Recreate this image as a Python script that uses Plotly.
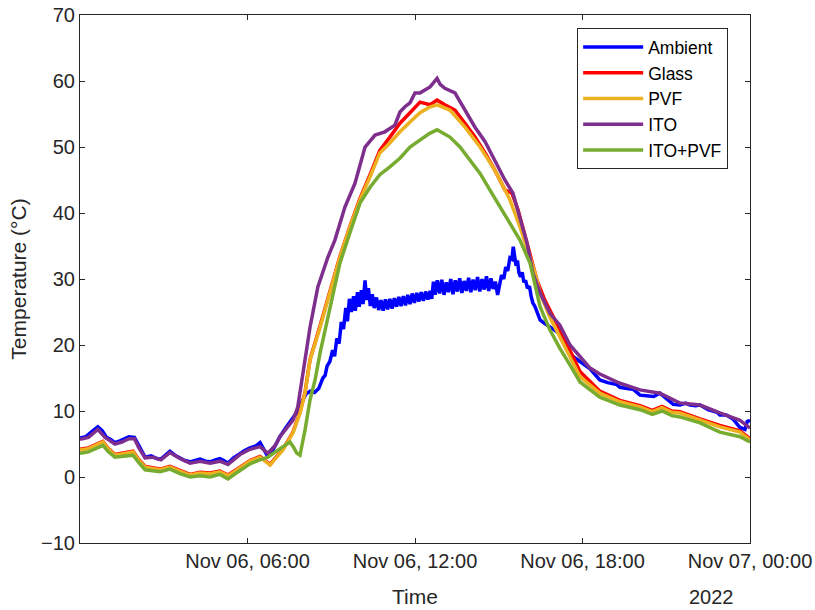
import pandas as pd
import plotly.graph_objects as go

# ---------------- data (hours after 2022-11-06 00:00, temperature in °C) ----------------
ambient_h = [0.0, 0.2, 0.4, 0.64, 0.8, 0.95, 1.1, 1.25, 1.45, 1.6, 1.75, 1.95, 2.1, 2.33, 2.55, 2.75, 2.9,
             3.05, 3.22, 3.4, 3.58, 3.75, 3.94, 4.1, 4.3, 4.5, 4.66, 4.85, 5.01, 5.15, 5.3, 5.5, 5.73, 5.9,
             6.09, 6.3, 6.45, 6.55, 6.7, 6.85, 7.0, 7.16, 7.4, 7.63, 7.8, 7.95, 8.1, 8.25, 8.4, 8.55, 8.7,
             8.78, 8.85, 8.95, 9.05, 9.12, 9.2, 9.28, 9.36, 9.44, 9.52, 9.58, 9.65, 9.72, 9.8, 9.86, 9.94,
             10.0, 10.08, 10.14, 10.21, 10.27, 10.33, 10.4, 10.47, 10.54, 10.62, 10.7, 10.78, 10.86, 10.94,
             11.02, 11.1, 11.18, 11.26, 11.34, 11.42, 11.5, 11.58, 11.66, 11.74, 11.82, 11.9, 11.98, 12.06,
             12.14, 12.22, 12.3, 12.38, 12.46, 12.54, 12.6, 12.66, 12.72, 12.8, 12.88, 12.96, 13.04, 13.12,
             13.2, 13.28, 13.36, 13.44, 13.52, 13.6, 13.68, 13.76, 13.84, 13.92, 14.0, 14.08, 14.16, 14.24,
             14.32, 14.4, 14.48, 14.56, 14.64, 14.72, 14.8, 14.88, 14.96, 15.04, 15.1, 15.18, 15.25, 15.32,
             15.4, 15.47, 15.52, 15.57, 15.62, 15.67, 15.72, 15.78, 15.84, 15.9, 15.96, 16.03, 16.1, 16.16,
             16.22, 16.3, 16.4, 16.48, 16.6, 16.75, 16.9, 17.05, 17.19, 17.3, 17.55, 17.9, 18.27, 18.62,
             18.9, 19.23, 19.34, 19.6, 19.81, 20.06, 20.3, 20.55, 20.77, 21.0, 21.25, 21.49, 21.7, 21.85,
             22.05, 22.21, 22.5, 22.82, 22.92, 23.15, 23.39, 23.64, 23.82, 23.9, 24.0]
ambient_t = [5.9, 6.1, 6.8, 7.6, 7.0, 6.0, 5.7, 5.2, 5.5, 5.8, 6.1, 6.0, 4.8, 3.0, 3.2, 2.8, 2.7,
             3.2, 3.9, 3.3, 2.9, 2.5, 2.3, 2.5, 2.7, 2.4, 2.3, 2.6, 2.8, 2.5, 2.1, 2.9, 3.6, 4.0,
             4.4, 4.7, 5.2, 4.5, 3.3, 3.6, 4.8, 6.1, 7.6, 8.9, 10.0, 11.4, 12.6, 13.0, 12.8, 13.4, 15.0,
             15.4, 16.8, 17.5, 19.2, 18.3, 21.0, 20.2, 23.5, 22.4, 25.6, 23.6, 27.0, 25.0, 27.4, 25.2, 28.0,
             25.8, 28.3, 26.2, 29.8, 26.8, 28.6, 25.9, 27.7, 25.6, 27.2, 25.3, 26.8, 25.2, 26.9,
             25.4, 27.0, 25.5, 27.1, 25.8, 27.3, 25.9, 27.4, 26.0, 27.6, 26.2, 27.8, 26.4, 27.9,
             26.6, 28.0, 26.7, 28.1, 26.9, 28.2, 27.0, 29.6, 27.6, 29.8, 27.8, 29.9, 27.6, 29.5,
             28.0, 30.0, 27.7, 29.8, 28.1, 30.1, 27.9, 29.7, 28.2, 30.2, 28.0, 29.9, 28.3, 30.3,
             28.1, 30.0, 28.4, 30.4, 28.2, 30.1, 28.5, 29.6, 27.6, 29.0, 30.6, 30.0, 31.8, 31.2,
             33.2, 33.0, 34.9, 33.4, 32.0, 32.8, 31.0, 30.3, 31.0, 29.5, 29.8, 28.6, 28.9, 27.4,
             26.4, 25.8, 24.6, 23.8, 23.4, 23.0, 22.6, 22.1, 21.6, 20.8, 18.6, 17.6, 16.4, 14.7,
             14.3, 14.0, 13.6, 13.4, 13.3, 12.4, 12.3, 12.2, 12.7, 11.9, 11.0, 10.9, 11.2, 10.9,
             10.8, 10.9, 10.2, 9.8, 9.4, 9.4, 8.8, 7.5, 7.2, 8.4, 8.6]

glass_h = [0.0, 0.3, 0.82, 1.0, 1.25, 1.6, 1.9, 2.1, 2.33, 2.87, 3.22, 3.58, 3.94, 4.3, 4.66, 5.01, 5.3,
           5.6, 5.91, 6.09, 6.45, 6.81, 7.0, 7.27, 7.63, 7.88, 8.06, 8.24, 8.6, 8.95, 9.31, 9.67, 10.03,
           10.39, 10.74, 11.1, 11.46, 11.82, 12.18, 12.54, 12.79, 13.07, 13.43, 13.79, 14.15, 14.51,
           14.86, 15.22, 15.47, 15.69, 15.94, 16.12, 16.37, 16.65, 17.01, 17.37, 17.91, 18.62, 19.34,
           20.06, 20.5, 20.85, 21.2, 21.49, 22.21, 22.92, 23.64, 24.0]
glass_t = [4.2, 4.4, 5.4, 4.4, 3.4, 3.7, 3.9, 2.7, 1.6, 1.2, 1.6, 1.0, 0.4, 0.7, 0.6, 0.9, 0.3,
           1.1, 1.9, 2.5, 3.1, 1.9, 2.9, 4.2, 6.8, 9.8, 12.8, 17.8, 22.9, 28.0, 33.4, 38.0, 42.2,
           45.8, 49.5, 51.5, 53.6, 55.2, 56.8, 56.4, 57.1, 56.4, 55.6, 53.6, 51.5, 49.1,
           46.5, 43.5, 43.0, 40.5, 36.4, 33.9, 29.8, 26.8, 23.8, 20.8, 16.0, 13.0, 11.6,
           10.8, 10.1, 10.7, 10.0, 9.9, 8.8, 7.8, 7.0, 5.8]

pvf_h = [0.0, 0.3, 0.82, 1.0, 1.25, 1.6, 1.9, 2.1, 2.33, 2.87, 3.22, 3.58, 3.94, 4.3, 4.66, 5.01, 5.3,
         5.6, 5.91, 6.09, 6.45, 6.81, 7.0, 7.27, 7.63, 7.88, 8.06, 8.24, 8.6, 8.95, 9.31, 9.67, 10.03,
         10.39, 10.74, 11.1, 11.46, 11.82, 12.18, 12.5, 12.79, 13.25, 13.79, 14.33, 14.86, 15.4, 15.76,
         16.12, 16.3, 16.48, 16.83, 17.19, 17.55, 17.91, 18.62, 19.34, 20.06, 20.5, 20.85, 21.2, 21.49,
         22.21, 22.92, 23.64, 24.0]
pvf_t = [4.1, 4.3, 5.3, 4.3, 3.3, 3.6, 3.8, 2.6, 1.5, 1.1, 1.5, 0.9, 0.3, 0.6, 0.5, 0.8, 0.2,
         1.0, 1.8, 2.4, 3.0, 1.8, 2.8, 4.1, 6.7, 9.7, 12.7, 17.7, 22.7, 27.9, 33.3, 37.9, 42.0,
         45.5, 49.1, 50.6, 52.3, 53.8, 55.2, 56.0, 56.4, 55.6, 53.0, 50.0, 46.5, 42.0, 37.9,
         33.3, 30.9, 27.9, 24.2, 21.2, 18.2, 15.2, 12.7, 11.4, 10.6, 9.9, 10.5, 9.8, 9.7,
         8.6, 7.6, 6.8, 5.6]

ito_h = [0.0, 0.3, 0.64, 0.9, 1.25, 1.5, 1.75, 1.95, 2.1, 2.33, 2.6, 2.9, 3.22, 3.58, 3.94, 4.3, 4.66,
         5.01, 5.3, 5.73, 6.09, 6.45, 6.73, 7.0, 7.16, 7.4, 7.63, 7.8, 7.88, 8.06, 8.24, 8.52, 8.88,
         9.13, 9.49, 9.85, 10.21, 10.57, 10.92, 11.28, 11.46, 11.64, 11.82, 12.0, 12.18, 12.54, 12.79,
         12.9, 13.07, 13.43, 13.79, 14.15, 14.51, 14.86, 15.22, 15.51, 15.76, 16.01, 16.22, 16.48,
         16.83, 17.19, 17.55, 17.91, 18.27, 18.62, 19.34, 20.06, 20.77, 21.49, 22.21, 22.92, 23.64, 24.0]
ito_t = [5.7, 6.0, 7.2, 6.0, 5.0, 5.3, 5.8, 5.8, 4.5, 2.9, 3.0, 2.6, 3.7, 2.8, 2.1, 2.4, 2.1,
         2.4, 1.9, 3.4, 4.2, 4.6, 3.6, 4.8, 6.1, 7.4, 8.6, 10.6, 12.7, 17.7, 22.7, 28.8, 33.3,
         35.9, 40.9, 44.5, 50.0, 51.8, 52.3, 53.3, 55.3, 56.1, 56.7, 58.2, 58.2, 59.1, 60.4,
         59.5, 58.9, 58.2, 55.6, 53.0, 50.8, 48.0, 45.0, 43.0, 39.4, 35.5, 30.9, 27.9,
         24.8, 23.0, 20.0, 18.2, 16.5, 15.6, 14.2, 13.2, 12.7, 11.2, 10.9, 9.7, 8.6, 7.4]

itopvf_h = [0.0, 0.3, 0.82, 1.0, 1.25, 1.6, 1.9, 2.1, 2.33, 2.87, 3.22, 3.58, 3.94, 4.3, 4.66, 5.01,
            5.3, 5.6, 5.91, 6.09, 6.45, 6.73, 7.0, 7.3, 7.52, 7.65, 7.77, 7.88, 8.06, 8.24, 8.42, 8.6,
            8.95, 9.31, 9.67, 10.03, 10.39, 10.74, 11.1, 11.46, 11.82, 12.18, 12.5, 12.79, 13.25,
            13.61, 13.97, 14.33, 14.68, 15.04, 15.4, 15.76, 16.12, 16.3, 16.48, 16.83, 17.19, 17.55,
            17.91, 18.62, 19.34, 20.06, 20.5, 20.85, 21.2, 21.49, 22.21, 22.92, 23.64, 24.0]
itopvf_t = [3.6, 3.8, 4.8, 3.9, 3.0, 3.2, 3.3, 2.2, 1.1, 0.8, 1.2, 0.5, 0.0, 0.2, 0.0, 0.4,
            -0.3, 0.6, 1.4, 2.0, 2.6, 3.0, 3.8, 4.6, 5.3, 4.5, 3.6, 3.3, 7.1, 11.7, 14.7, 18.8,
            25.8, 32.4, 37.0, 41.5, 43.9, 45.8, 47.0, 48.3, 50.0, 51.0, 52.0, 52.6, 51.5,
            50.0, 48.0, 46.0, 43.5, 40.9, 38.5, 35.9, 32.4, 28.8, 25.8, 22.3, 19.5, 17.0,
            14.4, 12.1, 10.9, 10.2, 9.5, 10.0, 9.3, 9.1, 8.2, 6.8, 6.1, 5.3]

series_names = ["Ambient", "Glass", "PVF", "ITO", "ITO+PVF"]
series_colors = ["#0000FF", "#FF0000", "#EDB120", "#7E2F8E", "#77AC30"]

x_tick_hours = [6, 12, 18, 24]
x_tick_labels = ["Nov 06, 06:00", "Nov 06, 12:00", "Nov 06, 18:00", "Nov 07, 00:00"]
y_ticks = [-10, 0, 10, 20, 30, 40, 50, 60, 70]

# ---------------- figure ----------------
t0 = pd.Timestamp("2022-11-06 00:00")


def to_time(hours):
    return [t0 + pd.Timedelta(hours=h) for h in hours]


series = [(ambient_h, ambient_t), (glass_h, glass_t), (pvf_h, pvf_t), (ito_h, ito_t), (itopvf_h, itopvf_t)]

fig = go.Figure()
for (hh, tt), name, col in zip(series, series_names, series_colors):
    fig.add_trace(go.Scatter(x=to_time(hh), y=tt, mode="lines", name=name,
                             line=dict(color=col, width=3.5)))

font_family = "Liberation Sans, Arial, Helvetica, sans-serif"
axis_col = "#262626"

fig.update_layout(
    width=815, height=610,
    margin=dict(l=80, r=65, t=15, b=67, autoexpand=False),
    paper_bgcolor="white", plot_bgcolor="white",
    font=dict(family=font_family, size=20, color=axis_col),
    showlegend=True,
    legend=dict(x=0.742, y=0.975, xanchor="left", yanchor="top",
                bordercolor="#262626", borderwidth=1, bgcolor="white",
                font=dict(size=17.5, color="#000000"), itemwidth=60,
                tracegroupgap=0),
)

fig.update_xaxes(
    range=[t0, t0 + pd.Timedelta(hours=24)],
    tickvals=to_time(x_tick_hours), ticktext=x_tick_labels,
    ticks="inside", ticklen=5, tickcolor=axis_col,
    showline=True, linecolor=axis_col, linewidth=1, mirror="ticks",
    showgrid=False, zeroline=False, automargin=False,
    tickfont=dict(size=20, color=axis_col),
    title=dict(text="Time", font=dict(size=21, color=axis_col), standoff=18),
)
fig.update_yaxes(
    range=[-10, 70], tickvals=y_ticks,
    ticks="inside", ticklen=5, tickcolor=axis_col,
    showline=True, linecolor=axis_col, linewidth=1, mirror="ticks",
    showgrid=False, zeroline=False, automargin=False,
    tickfont=dict(size=20, color=axis_col),
    title=dict(text="Temperature (°C)", font=dict(size=21, color=axis_col), standoff=8),
)

fig.add_annotation(text="2022", xref="paper", yref="paper", x=(687 - 80) / 670, y=-0.102,
                   xanchor="left", yanchor="middle", showarrow=False,
                   font=dict(size=20, color=axis_col, family=font_family))

# remove the browser's default body margin so the figure fills the window exactly
fig.write_html("out.html",
               config={"displayModeBar": False},
               post_script="document.body.style.margin='0';document.body.style.overflow='hidden';")
